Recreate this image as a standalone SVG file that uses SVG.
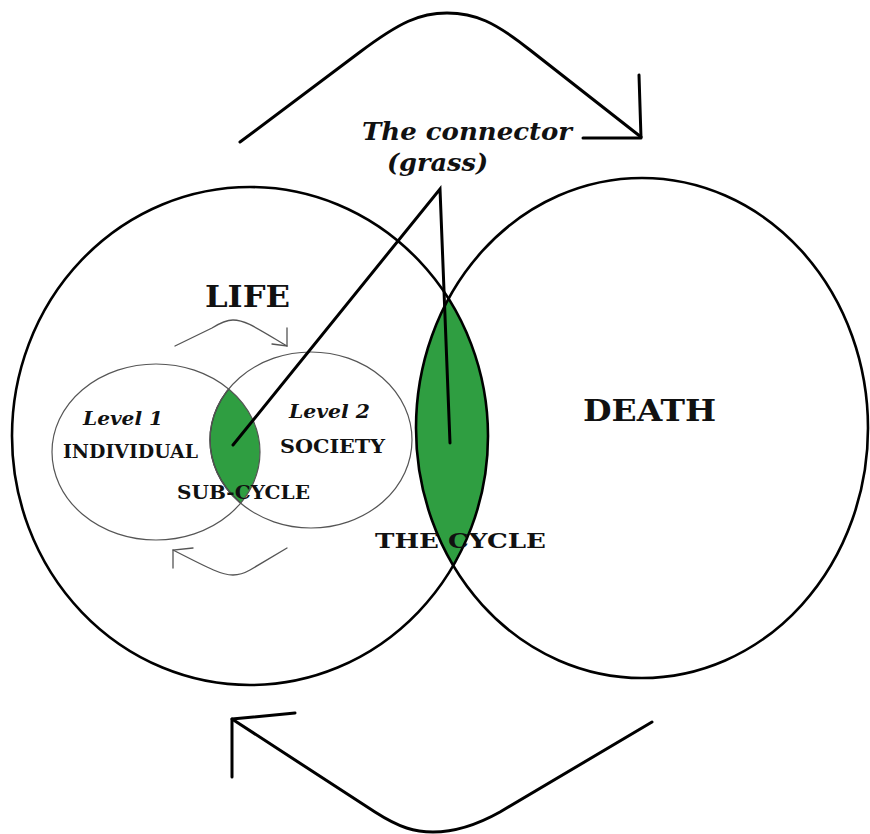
<svg xmlns="http://www.w3.org/2000/svg" width="870" height="834" viewBox="0 0 870 834">
<defs>
  <clipPath id="clipLife"><ellipse cx="250" cy="436" rx="238" ry="249"/></clipPath>
  <clipPath id="clipInd"><ellipse cx="156" cy="452" rx="104" ry="88"/></clipPath>
</defs>
<style>
  .big{fill:none;stroke:#000;stroke-width:2.6}
  .small{fill:none;stroke:#555;stroke-width:1.2}
  .green{fill:#2f9e41}
  .lensS{fill:none;stroke:#333;stroke-width:1.4}
  .arrow{fill:none;stroke:#000;stroke-width:3;stroke-linecap:round;stroke-linejoin:round}
  .arrowS{fill:none;stroke:#555;stroke-width:1.3;stroke-linecap:round}
  .conn{fill:none;stroke:#000;stroke-width:3;stroke-linecap:round}
  .t{font-family:"DejaVu Serif","Liberation Serif",serif;font-weight:bold;fill:#111}
  .ti{font-family:"DejaVu Serif","Liberation Serif",serif;font-weight:bold;font-style:italic;fill:#111}
</style>
<rect width="870" height="834" fill="#fff"/>

<g id="cycle-lens">
  <ellipse class="green" cx="642" cy="428" rx="226" ry="250" clip-path="url(#clipLife)"/>
</g>
<g id="subcycle-lens">
  <ellipse class="green" cx="311" cy="440" rx="101" ry="88" clip-path="url(#clipInd)"/>
  <ellipse class="lensS" cx="311" cy="440" rx="101" ry="88" clip-path="url(#clipInd)"/>
</g>

<g id="life">
  <ellipse class="big" cx="250" cy="436" rx="238" ry="249"/>
  <text class="t" x="205" y="307" font-size="30" textLength="85" lengthAdjust="spacingAndGlyphs">LIFE</text>
</g>
<g id="death">
  <ellipse class="big" cx="642" cy="428" rx="226" ry="250"/>
  <text class="t" x="583" y="421" font-size="30" textLength="133" lengthAdjust="spacingAndGlyphs">DEATH</text>
</g>
<g id="individual">
  <ellipse class="small" cx="156" cy="452" rx="104" ry="88"/>
  <text class="ti" x="83" y="425" font-size="18" textLength="80" lengthAdjust="spacingAndGlyphs">Level 1</text>
  <text class="t" x="63" y="458" font-size="19" textLength="135" lengthAdjust="spacingAndGlyphs">INDIVIDUAL</text>
</g>
<g id="society">
  <ellipse class="small" cx="311" cy="440" rx="101" ry="88"/>
  <text class="ti" x="289" y="418" font-size="18" textLength="81" lengthAdjust="spacingAndGlyphs">Level 2</text>
  <text class="t" x="280" y="453" font-size="19" textLength="105" lengthAdjust="spacingAndGlyphs">SOCIETY</text>
</g>
<g id="subcycle-label">
  <text class="t" x="177" y="499" font-size="19" textLength="133" lengthAdjust="spacingAndGlyphs">SUB-CYCLE</text>
</g>
<g id="cycle-label">
  <text class="t" x="375" y="548" font-size="20" textLength="171" lengthAdjust="spacingAndGlyphs">THE CYCLE</text>
</g>
<g id="connector-label">
  <text class="ti" x="362" y="140" font-size="24" textLength="210" lengthAdjust="spacingAndGlyphs">The connector</text>
  <text class="ti" x="387" y="171" font-size="24" textLength="101" lengthAdjust="spacingAndGlyphs">(grass)</text>
</g>

<g id="connectors">
  <path class="conn" d="M233,445 L440,189 L450,443"/>
  <path class="arrow" d="M240,142 L360,52 C400,22 420,13 447,13 C475,13 495,22 530,50 L641,137"/>
  <path class="arrow" d="M583,138 L641,138 L639,75"/>
  <path class="arrow" d="M652,722 L500,812 C475,826 455,832 433,832 C415,832 400,828 375,812 L232,719"/>
  <path class="arrow" d="M232,777 L232,719 L295,713"/>
  <path class="arrowS" d="M175,346 L212,328 C220,323 226,320 233,320 C245,320 255,327 287,346"/>
  <path class="arrowS" d="M287,328 L287,346 L272,344"/>
  <path class="arrowS" d="M287,548 L250,570 C243,574 238,575 233,575 C222,575 212,570 173,550"/>
  <path class="arrowS" d="M173,568 L173,550 L193,548"/>
</g>
</svg>
